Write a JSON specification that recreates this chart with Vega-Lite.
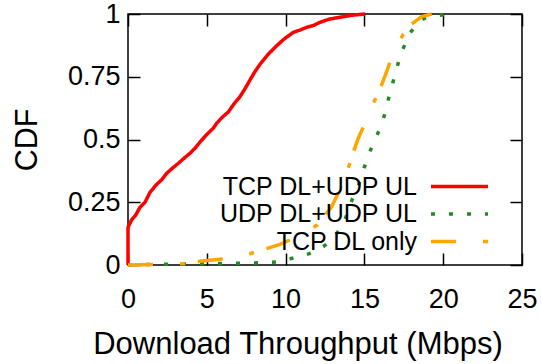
{
  "$schema": "https://vega.github.io/schema/vega-lite/v6.json",
  "width": 394,
  "height": 251,
  "autosize": {"type": "none"},
  "padding": {"left": 128, "top": 14, "right": 20, "bottom": 99},
  "config": {
    "font": "Liberation Sans",
    "view": {"stroke": "black", "strokeWidth": 1.5},
    "axis": {
      "domain": false,
      "grid": false,
      "ticks": true,
      "tickColor": "black",
      "tickWidth": 1.5,
      "tickSize": -12,
      "labelFlush": false,
      "labelOverlap": false,
      "labelColor": "black",
      "labelFont": "Liberation Sans",
      "labelFontSize": 27,
      "titleColor": "black",
      "titleFont": "Liberation Sans",
      "titleFontSize": 30.5,
      "titleFontWeight": "normal"
    },
    "line": {"strokeWidth": 3.5, "strokeCap": "butt"}
  },
  "data": {
    "values": [
      {"series": "TCP DL+UDP UL", "x": 0, "y": 0},
      {"series": "TCP DL+UDP UL", "x": 0, "y": 0.15},
      {"series": "TCP DL+UDP UL", "x": 0.23, "y": 0.18},
      {"series": "TCP DL+UDP UL", "x": 0.5, "y": 0.2},
      {"series": "TCP DL+UDP UL", "x": 0.76, "y": 0.23},
      {"series": "TCP DL+UDP UL", "x": 1.08, "y": 0.25},
      {"series": "TCP DL+UDP UL", "x": 1.4, "y": 0.29},
      {"series": "TCP DL+UDP UL", "x": 1.8, "y": 0.32},
      {"series": "TCP DL+UDP UL", "x": 2.14, "y": 0.34},
      {"series": "TCP DL+UDP UL", "x": 2.45, "y": 0.365},
      {"series": "TCP DL+UDP UL", "x": 2.8, "y": 0.385},
      {"series": "TCP DL+UDP UL", "x": 3.19, "y": 0.405},
      {"series": "TCP DL+UDP UL", "x": 3.55, "y": 0.425},
      {"series": "TCP DL+UDP UL", "x": 3.93, "y": 0.445},
      {"series": "TCP DL+UDP UL", "x": 4.25, "y": 0.465},
      {"series": "TCP DL+UDP UL", "x": 4.57, "y": 0.49},
      {"series": "TCP DL+UDP UL", "x": 5.0, "y": 0.52},
      {"series": "TCP DL+UDP UL", "x": 5.41, "y": 0.545},
      {"series": "TCP DL+UDP UL", "x": 5.63, "y": 0.565},
      {"series": "TCP DL+UDP UL", "x": 6.0, "y": 0.59},
      {"series": "TCP DL+UDP UL", "x": 6.37, "y": 0.61},
      {"series": "TCP DL+UDP UL", "x": 6.7, "y": 0.64},
      {"series": "TCP DL+UDP UL", "x": 7.1, "y": 0.67},
      {"series": "TCP DL+UDP UL", "x": 7.4, "y": 0.7},
      {"series": "TCP DL+UDP UL", "x": 7.74, "y": 0.737},
      {"series": "TCP DL+UDP UL", "x": 8.05, "y": 0.77},
      {"series": "TCP DL+UDP UL", "x": 8.38, "y": 0.8},
      {"series": "TCP DL+UDP UL", "x": 8.9, "y": 0.84},
      {"series": "TCP DL+UDP UL", "x": 9.44, "y": 0.874},
      {"series": "TCP DL+UDP UL", "x": 9.9, "y": 0.9},
      {"series": "TCP DL+UDP UL", "x": 10.49, "y": 0.927},
      {"series": "TCP DL+UDP UL", "x": 10.91, "y": 0.936},
      {"series": "TCP DL+UDP UL", "x": 11.34, "y": 0.947},
      {"series": "TCP DL+UDP UL", "x": 11.8, "y": 0.955},
      {"series": "TCP DL+UDP UL", "x": 12.18, "y": 0.967},
      {"series": "TCP DL+UDP UL", "x": 12.8, "y": 0.98},
      {"series": "TCP DL+UDP UL", "x": 13.45, "y": 0.987},
      {"series": "TCP DL+UDP UL", "x": 14.2, "y": 0.995},
      {"series": "TCP DL+UDP UL", "x": 15.04, "y": 1.0},

      {"series": "UDP DL+UDP UL", "x": 0, "y": 0},
      {"series": "UDP DL+UDP UL", "x": 2, "y": 0.003},
      {"series": "UDP DL+UDP UL", "x": 5, "y": 0.005},
      {"series": "UDP DL+UDP UL", "x": 8, "y": 0.008},
      {"series": "UDP DL+UDP UL", "x": 9.5, "y": 0.012},
      {"series": "UDP DL+UDP UL", "x": 10.3, "y": 0.025},
      {"series": "UDP DL+UDP UL", "x": 11.0, "y": 0.035},
      {"series": "UDP DL+UDP UL", "x": 11.5, "y": 0.045},
      {"series": "UDP DL+UDP UL", "x": 12.0, "y": 0.058},
      {"series": "UDP DL+UDP UL", "x": 12.4, "y": 0.073},
      {"series": "UDP DL+UDP UL", "x": 12.8, "y": 0.095},
      {"series": "UDP DL+UDP UL", "x": 13.1, "y": 0.113},
      {"series": "UDP DL+UDP UL", "x": 13.4, "y": 0.14},
      {"series": "UDP DL+UDP UL", "x": 13.66, "y": 0.166},
      {"series": "UDP DL+UDP UL", "x": 13.85, "y": 0.195},
      {"series": "UDP DL+UDP UL", "x": 13.98, "y": 0.226},
      {"series": "UDP DL+UDP UL", "x": 14.2, "y": 0.257},
      {"series": "UDP DL+UDP UL", "x": 14.4, "y": 0.286},
      {"series": "UDP DL+UDP UL", "x": 14.72, "y": 0.332},
      {"series": "UDP DL+UDP UL", "x": 15.0, "y": 0.39},
      {"series": "UDP DL+UDP UL", "x": 15.3, "y": 0.445},
      {"series": "UDP DL+UDP UL", "x": 15.67, "y": 0.498},
      {"series": "UDP DL+UDP UL", "x": 15.99, "y": 0.545},
      {"series": "UDP DL+UDP UL", "x": 16.31, "y": 0.604},
      {"series": "UDP DL+UDP UL", "x": 16.5, "y": 0.655},
      {"series": "UDP DL+UDP UL", "x": 16.73, "y": 0.71},
      {"series": "UDP DL+UDP UL", "x": 16.94, "y": 0.757},
      {"series": "UDP DL+UDP UL", "x": 17.2, "y": 0.817},
      {"series": "UDP DL+UDP UL", "x": 17.47, "y": 0.864},
      {"series": "UDP DL+UDP UL", "x": 17.9, "y": 0.924},
      {"series": "UDP DL+UDP UL", "x": 18.42, "y": 0.97},
      {"series": "UDP DL+UDP UL", "x": 18.9, "y": 0.985},
      {"series": "UDP DL+UDP UL", "x": 19.37, "y": 0.992},
      {"series": "UDP DL+UDP UL", "x": 20.54, "y": 1.0},

      {"series": "TCP DL only", "x": 0, "y": 0},
      {"series": "TCP DL only", "x": 3.0, "y": 0.003},
      {"series": "TCP DL only", "x": 4.0, "y": 0.008},
      {"series": "TCP DL only", "x": 4.57, "y": 0.015},
      {"series": "TCP DL only", "x": 5.84, "y": 0.023},
      {"series": "TCP DL only", "x": 6.8, "y": 0.033},
      {"series": "TCP DL only", "x": 7.74, "y": 0.045},
      {"series": "TCP DL only", "x": 8.7, "y": 0.064},
      {"series": "TCP DL only", "x": 9.64, "y": 0.082},
      {"series": "TCP DL only", "x": 10.49, "y": 0.106},
      {"series": "TCP DL only", "x": 11.0, "y": 0.12},
      {"series": "TCP DL only", "x": 11.55, "y": 0.14},
      {"series": "TCP DL only", "x": 12.0, "y": 0.16},
      {"series": "TCP DL only", "x": 12.39, "y": 0.19},
      {"series": "TCP DL only", "x": 12.92, "y": 0.232},
      {"series": "TCP DL only", "x": 13.45, "y": 0.3},
      {"series": "TCP DL only", "x": 13.77, "y": 0.352},
      {"series": "TCP DL only", "x": 14.05, "y": 0.4},
      {"series": "TCP DL only", "x": 14.3, "y": 0.45},
      {"series": "TCP DL only", "x": 14.61, "y": 0.505},
      {"series": "TCP DL only", "x": 15.04, "y": 0.565},
      {"series": "TCP DL only", "x": 15.46, "y": 0.631},
      {"series": "TCP DL only", "x": 15.99, "y": 0.7},
      {"series": "TCP DL only", "x": 16.41, "y": 0.77},
      {"series": "TCP DL only", "x": 16.73, "y": 0.829},
      {"series": "TCP DL only", "x": 17.15, "y": 0.883},
      {"series": "TCP DL only", "x": 17.47, "y": 0.92},
      {"series": "TCP DL only", "x": 18.0, "y": 0.96},
      {"series": "TCP DL only", "x": 18.64, "y": 0.99},
      {"series": "TCP DL only", "x": 19.27, "y": 1.0}
    ]
  },
  "layer": [
    {
      "mark": {"type": "line"},
      "encoding": {
        "x": {
          "field": "x",
          "type": "quantitative",
          "scale": {"domain": [0, 25], "nice": false},
          "axis": {
            "orient": "bottom",
            "values": [0, 5, 10, 15, 20, 25],
            "labelPadding": 33,
            "title": "Download Throughput (Mbps)",
            "titleFontSize": 31,
            "titleX": 169.5,
            "titleY": 88,
            "titleAlign": "center",
            "titleBaseline": "alphabetic"
          }
        },
        "y": {
          "field": "y",
          "type": "quantitative",
          "scale": {"domain": [0, 1], "nice": false},
          "axis": {
            "orient": "left",
            "values": [0, 0.25, 0.5, 0.75, 1],
            "labelExpr": "'' + datum.value",
            "labelPadding": 20,
            "title": "CDF",
            "titleX": -101,
            "titleY": 125.5,
            "titleAngle": -90,
            "titleAlign": "center",
            "titleBaseline": "middle"
          }
        },
        "color": {
          "field": "series",
          "type": "nominal",
          "scale": {
            "domain": ["TCP DL+UDP UL", "UDP DL+UDP UL", "TCP DL only"],
            "range": ["#ff0000", "#228b22", "#ffa500"]
          },
          "legend": {
            "title": null,
            "orient": "none",
            "legendX": 319,
            "legendY": 160,
            "padding": 0,
            "symbolType": "M-5,0H5",
            "symbolSize": 130,
            "symbolStrokeWidth": 3.5,
            "labelFontSize": 25,
            "labelColor": "black",
            "labelAlign": "right",
            "labelOffset": -55,
            "labelLimit": 0,
            "rowPadding": 1.5
          }
        },
        "strokeDash": {
          "field": "series",
          "type": "nominal",
          "scale": {
            "domain": ["TCP DL+UDP UL", "UDP DL+UDP UL", "TCP DL only"],
            "range": [[1, 0], [4, 14], [25, 27, 5, 13]]
          },
          "legend": {
            "title": null,
            "orient": "none",
            "legendX": 319,
            "legendY": 160,
            "padding": 0,
            "symbolType": "M-5,0H5",
            "symbolSize": 130,
            "symbolStrokeWidth": 3.5,
            "labelFontSize": 25,
            "labelColor": "black",
            "labelAlign": "right",
            "labelOffset": -55,
            "labelLimit": 0,
            "rowPadding": 1.5
          }
        },
        "order": [{"field": "x"}, {"field": "y"}]
      }
    },
    {
      "mark": {"type": "point", "opacity": 0},
      "encoding": {
        "x": {
          "field": "x",
          "type": "quantitative",
          "scale": {"domain": [0, 25], "nice": false},
          "axis": {"orient": "top", "values": [0, 5, 10, 15, 20, 25], "labels": false, "title": null}
        },
        "y": {
          "field": "y",
          "type": "quantitative",
          "scale": {"domain": [0, 1], "nice": false},
          "axis": {"orient": "right", "values": [0, 0.25, 0.5, 0.75, 1], "labels": false, "title": null}
        }
      }
    }
  ],
  "resolve": {"axis": {"x": "independent", "y": "independent"}}
}
